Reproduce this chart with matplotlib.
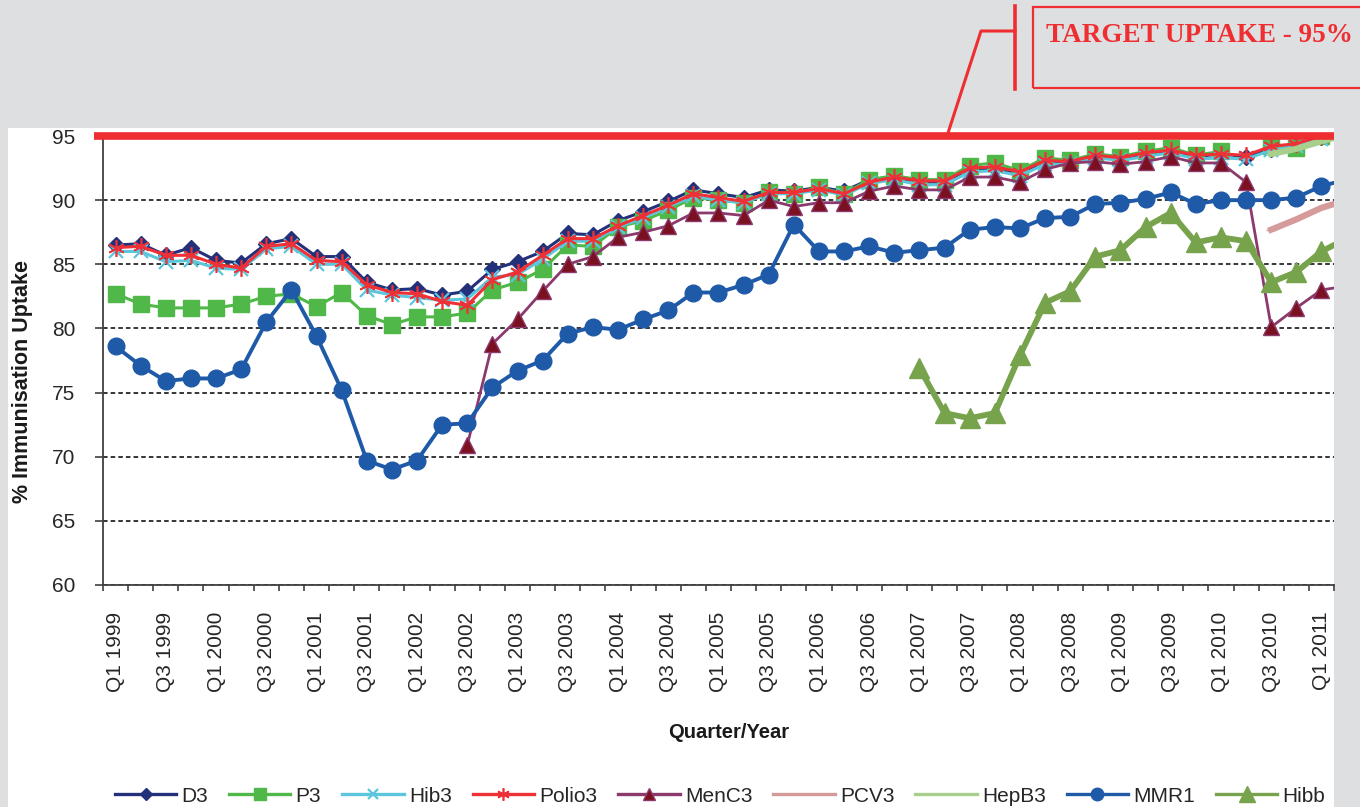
import numpy as np
import matplotlib
matplotlib.use('Agg')
import matplotlib.pyplot as plt
from matplotlib.lines import Line2D
from matplotlib.patches import Rectangle

plt.rcParams['font.family'] = ['Liberation Sans', 'DejaVu Sans']

nan = np.nan
# Q1 1999 .. Q2 2011 (last quarter falls off the right edge of the chart, as in the original)
quarters = [f'Q{q} {y}' for y in range(1999, 2012) for q in range(1, 5)][:50]

d3 = [86.5, 86.6, 85.7, 86.3, 85.3, 85.1, 86.6, 87.0, 85.6, 85.6, 83.6, 83.0, 83.1, 82.6, 82.9, 84.6,
      85.2, 86.0, 87.4, 87.3, 88.4, 89.1, 89.9, 90.8, 90.5, 90.2, 90.8, 90.7, 91.0, 90.7, 91.6,
      91.8, 91.4, 91.4, 92.4, 92.5, 92.0, 93.0, 92.9, 93.4, 93.2, 93.6, 93.9, 93.4, 93.6, 93.4,
      94.0, 94.3, 94.9, 95.3]
p3 = [82.7, 81.9, 81.6, 81.6, 81.6, 81.9, 82.5, 82.7, 81.7, 82.8, 81.0, 80.3, 80.9, 80.9, 81.2, 83.0,
      83.6, 84.6, 86.5, 86.4, 87.9, 88.4, 89.2, 90.2, 90.0, 89.8, 90.6, 90.5, 91.0, 90.5, 91.6,
      91.9, 91.6, 91.6, 92.7, 92.9, 92.3, 93.3, 93.1, 93.6, 93.4, 93.8, 94.1, 93.5, 93.8, nan,
      94.2, 94.1, 95.0, 95.3]
hib3 = [86.0, 86.0, 85.2, 85.3, 84.7, 84.6, 86.2, 86.4, 85.0, 85.0, 83.0, 82.6, 82.4, 82.2, 82.3, 84.0,
        84.2, 85.4, 86.8, 86.8, 87.9, 88.6, 89.5, 90.3, 90.0, 89.8, 90.5, 90.5, 90.8, 90.4, 91.3,
        91.6, 91.2, 91.2, 92.2, 92.3, 91.9, 92.8, 92.8, 93.3, 93.1, 93.4, 93.7, 93.2, 93.3, 93.2,
        93.9, 94.2, 94.8, 95.1]
polio3 = [86.3, 86.4, 85.7, 85.7, 85.0, 84.7, 86.4, 86.6, 85.3, 85.2, 83.4, 82.8, 82.7, 82.1, 81.8, 83.8,
          84.4, 85.7, 87.0, 87.0, 88.0, 88.8, 89.6, 90.5, 90.2, 89.9, 90.6, 90.6, 90.9, 90.5, 91.4,
          91.8, 91.5, 91.5, 92.5, 92.6, 92.2, 93.1, 93.0, 93.5, 93.3, 93.7, 93.9, 93.5, 93.6, 93.5,
          94.2, 94.4, 95.0, 95.4]
menc3 = [nan] * 14 + [70.9, 78.8, 80.7, 82.9, 85.0, 85.6, 87.1, 87.5, 88.0, 89.0, 89.0, 88.8,
                      90.0, 89.5, 89.8, 89.8, 90.7, 91.1, 90.8, 90.8, 91.8, 91.8, 91.4, 92.4,
                      92.9, 93.0, 92.8, 93.0, 93.4, 92.9, 92.9, 91.4, 80.1, 81.6, 83.0, 83.3]
pcv3 = [nan] * 46 + [87.7, 88.5, 89.4, 90.0]
hepb3 = [nan] * 46 + [93.6, 94.0, 94.6, 95.1]
mmr1 = [78.6, 77.1, 75.9, 76.1, 76.1, 76.8, 80.5, 83.0, 79.4, 75.2, 69.7, 69.0, 69.7, 72.5, 72.6, 75.4,
        76.7, 77.5, 79.6, 80.1, 79.9, 80.7, 81.4, 82.8, 82.8, 83.4, 84.2, 88.1, 86.0, 86.0, 86.4,
        85.9, 86.1, 86.3, 87.7, 87.9, 87.8, 88.6, 88.7, 89.7, 89.8, 90.1, 90.6, 89.7, 90.0, 90.0,
        90.0, 90.2, 91.1, 91.6]
hibb = [nan] * 32 + [76.9, 73.4, 73.0, 73.4, 77.9, 82.0, 82.9, 85.6, 86.1, 87.9, 89.0, 86.7,
                     87.1, 86.8, 83.6, 84.4, 86.0, 87.0]

target = 95
red = '#ee2e31'

fig = plt.figure(figsize=(13.6, 8.07), dpi=100, facecolor='#dedfe1')
# white chart panel
fig.patches.append(Rectangle((8 / 1360, 0), (1334 - 8) / 1360, (807 - 128) / 807,
                             transform=fig.transFigure, facecolor='white', edgecolor='none', zorder=-10))

ax = fig.add_axes([103 / 1360, (807 - 585) / 807, (1334 - 103) / 1360, (585 - 136) / 807])
ax.set_facecolor('white')
x = np.arange(len(quarters))

ax.plot(x, d3, color='#23307a', lw=2.2, marker='D', ms=8, label='D3')
ax.plot(x, p3, color='#50b848', lw=2.2, marker='s', ms=11, label='P3')
ax.plot(x, hib3, color='#5cc6dc', lw=2.2, marker='x', ms=10, mew=1.6, label='Hib3')
ax.plot(x, polio3, color='#ee3136', lw=2.2, marker=(6, 2, 0), ms=12, mew=1.2, label='Polio3')
ax.plot(x, menc3, color='#8c3a6e', lw=2.0, marker='^', ms=11, mfc='#7a1020', mec='#8c3a6e', label='MenC3')
ax.plot(x, pcv3, color='#d59a9a', lw=4.5, marker='_', ms=7, label='PCV3')
ax.plot(x, hepb3, color='#a9cf8c', lw=4.5, marker='_', ms=7, label='HepB3')
ax.plot(x, mmr1, color='#1f5aa8', lw=2.8, marker='o', ms=12, label='MMR1')
ax.plot(x, hibb, color='#77a34d', lw=4.2, marker='^', ms=15, label='Hibb')

ax.axhline(target, xmin=-0.0073, xmax=1, color=red, lw=5.5, clip_on=False, zorder=5,
           solid_capstyle='butt')

ax.set_xlim(-0.5, 48.5)
ax.set_ylim(60, 95)
ax.set_yticks(np.arange(60, 96, 5))
ax.yaxis.grid(True, linestyle=(0, (3, 2)), color='black', lw=1.1)
ax.set_axisbelow(True)
ax.tick_params(axis='y', labelsize=15, length=6, width=1.2, pad=14, colors='#404040', labelcolor='#262626')

ax.set_xticks(np.arange(-0.5, 49, 1))
ax.set_xticklabels([])
ax.set_xticks(x[:49:2], labels=quarters[:49:2], minor=True)
ax.tick_params(axis='x', which='major', length=4.5, width=1.2, colors='#404040')
ax.tick_params(axis='x', which='minor', length=0, pad=19, labelsize=15, labelrotation=90,
               labelcolor='#262626')

for s in ['top', 'right']:
    ax.spines[s].set_visible(False)
for s in ['left', 'bottom']:
    ax.spines[s].set_color('#404040')
    ax.spines[s].set_linewidth(1.3)

fig.text(23 / 1360, 1 - 381 / 807, '% Immunisation Uptake', rotation=90, ha='center', va='center',
         fontsize=15.5, fontweight='bold', color='#1a1a1a')
fig.text(729 / 1360, 1 - 732 / 807, 'Quarter/Year', ha='center', va='center',
         fontsize=14.5, fontweight='bold', color='#1a1a1a')

leg = ax.legend(loc='center', bbox_to_anchor=(720 / 1360, 1 - 796 / 807), bbox_transform=fig.transFigure,
                ncol=9, frameon=False, fontsize=15, handlelength=2.95, handletextpad=0.25,
                columnspacing=1.0, borderpad=0, markerscale=0.75)
for h in leg.get_lines():
    h.set_linewidth(2.4)
for t in leg.get_texts():
    t.set_color('#262626')

# target callout
def fx(px):
    return px / 1360

def fy(py):
    return 1 - py / 807

fig.add_artist(Line2D([fx(948), fx(981), fx(1015)], [fy(133), fy(31), fy(31)],
                      color=red, lw=2.2, transform=fig.transFigure))
fig.add_artist(Line2D([fx(1015), fx(1015)], [fy(6), fy(89)], color=red, lw=2.6,
                      transform=fig.transFigure))
fig.add_artist(Rectangle((fx(1033), fy(88)), fx(1380) - fx(1033), fy(7) - fy(88),
                         transform=fig.transFigure, facecolor='none', edgecolor=red, lw=1.6))
fig.text(fx(1046), fy(35), 'TARGET UPTAKE - 95%', ha='left', va='center', color=red,
         fontsize=19.5, fontweight='bold', family=['Liberation Serif', 'DejaVu Serif'])

fig.savefig('out.png', dpi=100, facecolor=fig.get_facecolor())
